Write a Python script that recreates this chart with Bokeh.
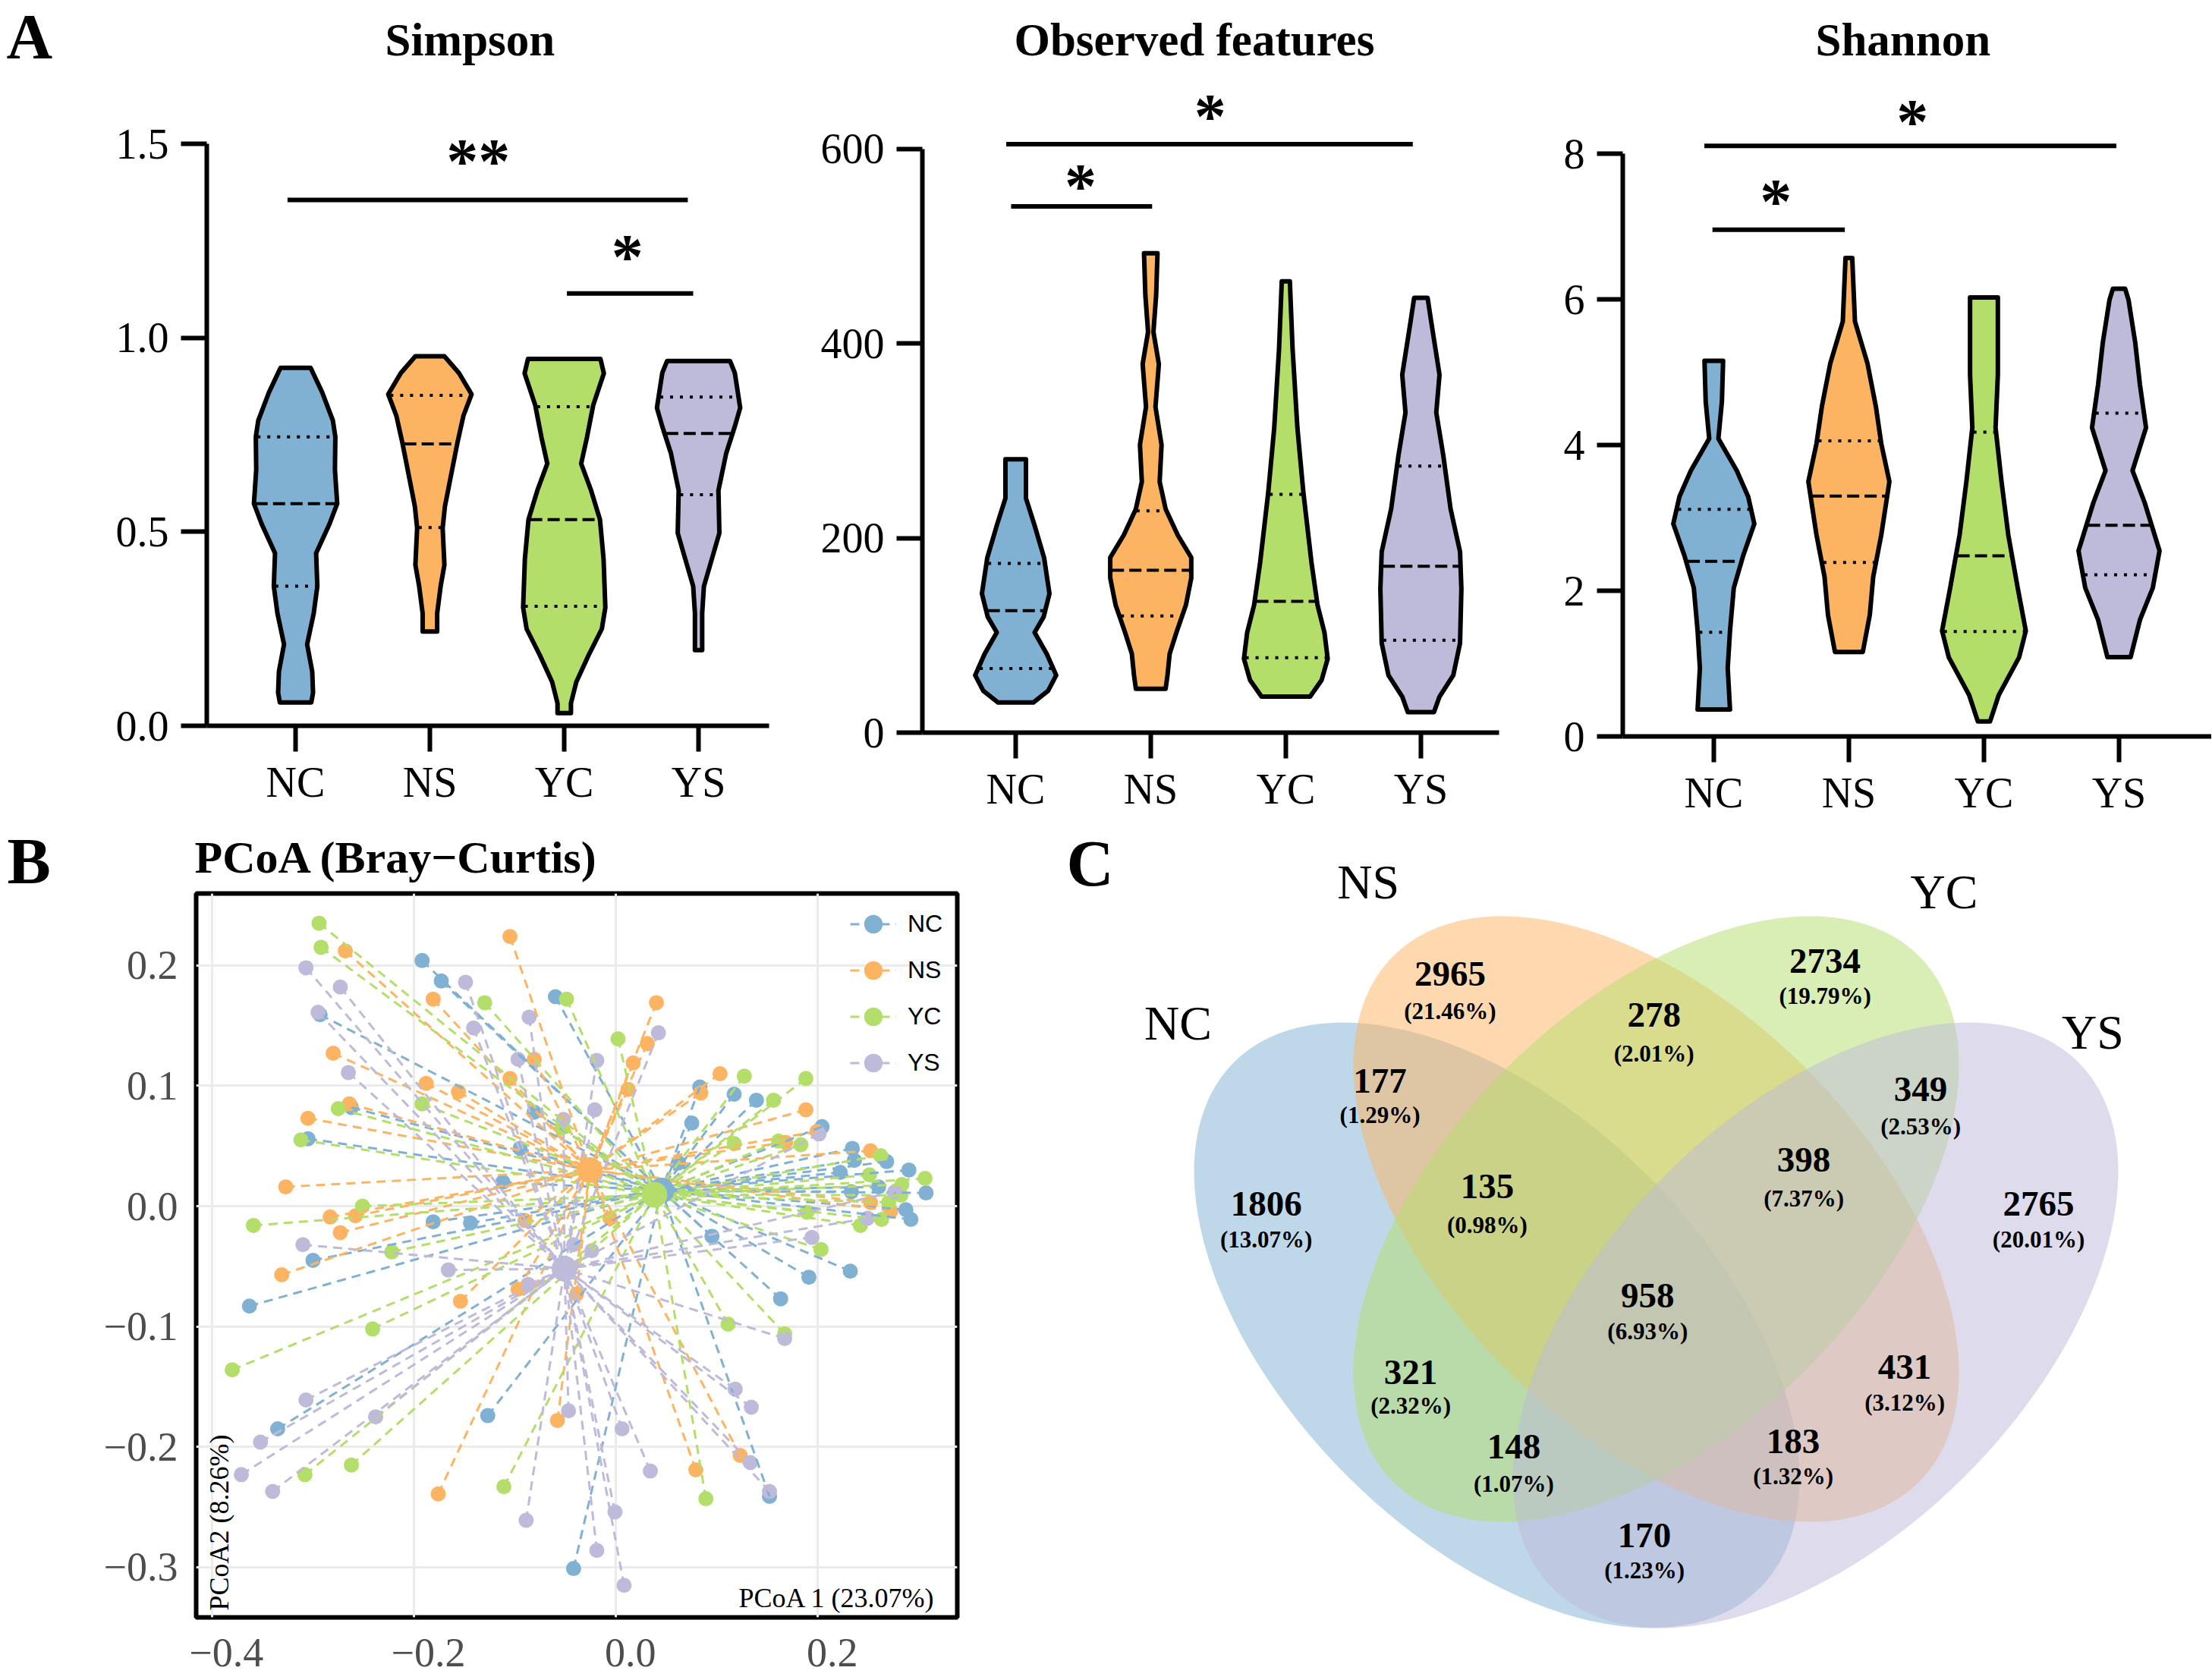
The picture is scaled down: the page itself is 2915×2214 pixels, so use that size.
import numpy as np
from bokeh.plotting import figure
from bokeh.layouts import row, column
from bokeh.models import (FixedTicker, PrintfTickFormatter, CustomJSTickFormatter,
                          Label, Legend, LegendItem, Range1d, ColumnDataSource)
from bokeh.core.properties import value
from bokeh.embed import file_html
from bokeh.resources import INLINE

SERIF = "Liberation Serif"
SANS = "Liberation Sans"

groups = ["NC", "NS", "YC", "YS"]
group_colors = ["#80B1D3", "#FDB462", "#B3DE69", "#BEBADA"]

# ---------------- A: alpha diversity violins: (value, half-width) outlines ----------------
simpson_profiles = {
    "NC": [(0.923, 0.112), (0.86, 0.198), (0.787, 0.278), (0.745, 0.296), (0.66, 0.293), (0.573, 0.31),
           (0.52, 0.252), (0.445, 0.153), (0.36, 0.162), (0.29, 0.135), (0.21, 0.086), (0.14, 0.124),
           (0.085, 0.13), (0.06, 0.117)],
    "NS": [(0.953, 0.108), (0.91, 0.216), (0.855, 0.31), (0.80, 0.25), (0.73, 0.205), (0.635, 0.151),
           (0.566, 0.112), (0.51, 0.095), (0.415, 0.108), (0.36, 0.08), (0.29, 0.054), (0.243, 0.054)],
    "YC": [(0.946, 0.27), (0.909, 0.295), (0.827, 0.216), (0.745, 0.17), (0.676, 0.126), (0.607, 0.2),
           (0.532, 0.266), (0.43, 0.293), (0.305, 0.306), (0.25, 0.28), (0.181, 0.18), (0.113, 0.09),
           (0.058, 0.05), (0.033, 0.05)],
    "YS": [(0.941, 0.234), (0.91, 0.27), (0.82, 0.31), (0.772, 0.27), (0.703, 0.206), (0.607, 0.148),
           (0.497, 0.155), (0.43, 0.099), (0.36, 0.04), (0.29, 0.027), (0.195, 0.027)],
}
simpson_quartiles = {"NC": (0.36, 0.573, 0.745), "NS": (0.511, 0.727, 0.852),
                     "YC": (0.308, 0.532, 0.823), "YS": (0.596, 0.754, 0.848)}
simpson_sig = {"x0": [0.94, 3.02], "x1": [3.92, 3.96], "y": [1.356, 1.115],
               "star_x": [2.36, 3.47], "star_y": [1.479, 1.233], "stars": ["**", "*"]}

observed_profiles = {
    "NC": [(281, 0.076), (241, 0.076), (213, 0.14), (180, 0.21), (143, 0.25), (119, 0.207), (103, 0.14),
           (81, 0.23), (59, 0.30), (43, 0.24), (31, 0.13)],
    "NS": [(493, 0.05), (450, 0.04), (412, 0.02), (379, 0.06), (335, 0.035), (296, 0.08), (258, 0.066),
           (230, 0.11), (203, 0.2), (180, 0.30), (159, 0.30), (131, 0.26), (103, 0.19), (81, 0.14),
           (59, 0.124), (45, 0.11)],
    "YC": [(464, 0.03), (395, 0.05), (313, 0.086), (247, 0.13), (175, 0.19), (131, 0.235), (103, 0.286),
           (76, 0.31), (54, 0.265), (37, 0.18)],
    "YS": [(447, 0.05), (423, 0.076), (368, 0.138), (329, 0.114), (285, 0.166), (230, 0.22), (186, 0.29),
           (148, 0.30), (92, 0.29), (59, 0.24), (37, 0.138), (21, 0.097)],
}
observed_quartiles = {"NC": (66, 125.5, 174), "NS": (120, 167, 228),
                      "YC": (77, 135, 245), "YS": (95, 171, 274)}
observed_sig = {"x0": [0.93, 0.966], "x1": [3.94, 2.01], "y": [605, 541],
                "star_x": [2.44, 1.48], "star_y": [643, 571], "stars": ["*", "*"]}

shannon_profiles = {
    "NC": [(5.16, 0.069), (4.6, 0.06), (4.09, 0.034), (3.65, 0.17), (3.29, 0.255), (2.92, 0.30),
           (2.48, 0.217), (2.04, 0.148), (1.45, 0.12), (0.94, 0.103), (0.37, 0.12)],
    "NS": [(6.57, 0.025), (5.7, 0.045), (5.12, 0.138), (4.53, 0.2), (4.02, 0.24), (3.5, 0.30),
           (2.77, 0.24), (2.19, 0.18), (1.67, 0.155), (1.16, 0.103)],
    "YC": [(6.03, 0.103), (4.97, 0.103), (4.24, 0.086), (3.5, 0.13), (2.77, 0.18), (2.04, 0.25),
           (1.45, 0.31), (1.085, 0.26), (0.57, 0.11), (0.205, 0.045)],
    "YS": [(6.15, 0.045), (6.0, 0.07), (5.41, 0.12), (4.83, 0.155), (4.24, 0.2), (3.65, 0.1),
           (3.21, 0.19), (2.55, 0.30), (2.04, 0.25), (1.6, 0.155), (1.09, 0.086)],
}
shannon_quartiles = {"NC": (1.43, 2.405, 3.12), "NS": (2.39, 3.3, 4.06),
                     "YC": (1.44, 2.48, 4.18), "YS": (2.22, 2.9, 4.44)}
shannon_sig = {"x0": [0.93, 0.99], "x1": [3.98, 1.97], "y": [8.11, 6.96],
               "star_x": [2.47, 1.46], "star_y": [8.57, 7.47], "stars": ["*", "*"]}

# ---------------- B: PCoA (Bray-Curtis) sample coordinates ----------------
pc1_NC = [-0.192, -0.173, -0.060, -0.293, -0.081, -0.262, -0.305, -0.095, -0.112, -0.181, -0.144, -0.300,
          0.083, 0.117, 0.139, 0.075, 0.204, 0.234, 0.268, 0.290, 0.307, 0.222, 0.233, 0.260, 0.287, 0.292,
          0.236, 0.062, 0.095, -0.363, -0.335, -0.127, -0.042, 0.232, 0.191, 0.163, 0.152]
pc2_NC = [0.204, 0.187, 0.174, 0.159, 0.078, 0.082, 0.056, 0.048, 0.020, -0.013, -0.014, -0.045,
          0.099, 0.093, 0.088, 0.069, 0.066, 0.048, 0.037, 0.030, 0.011, 0.028, 0.012, 0.016, -0.003, -0.011,
          0.038, 0.036, -0.025, -0.083, -0.185, -0.174, -0.301, -0.054, -0.059, -0.077, -0.241]
pc1_NS = [-0.105, -0.268, -0.181, -0.280, -0.081, -0.105, -0.188, -0.156, -0.264, -0.305, -0.327, -0.283,
          -0.258, -0.273, -0.090, 0.040, 0.031, 0.017, 0.012, 0.103, 0.084, 0.188, 0.199, 0.252, 0.168,
          0.272, 0.252, -0.006, -0.331, -0.154, -0.097, -0.058, -0.176, -0.039, 0.123, 0.079]
pc2_NS = [0.224, 0.212, 0.172, 0.127, 0.122, 0.106, 0.102, 0.095, 0.085, 0.073, 0.016, -0.009,
          -0.008, -0.022, -0.012, 0.169, 0.135, 0.119, 0.097, 0.110, 0.094, 0.080, 0.062, 0.046, 0.053,
          -0.004, 0.003, -0.010, -0.057, -0.079, -0.069, -0.178, -0.239, -0.073, -0.207, -0.219]
pc1_YC = [-0.294, -0.292, -0.130, -0.049, -0.275, -0.192, -0.312, -0.251, -0.359, -0.222, -0.054,
          0.002, 0.127, 0.188, 0.156, 0.117, 0.161, 0.183, 0.262, 0.251, 0.306, 0.283, 0.282, 0.270, 0.242,
          0.263, 0.203, 0.189, -0.241, -0.380, -0.262, -0.308, -0.111, 0.111, 0.167, 0.089]
pc2_YC = [0.235, 0.215, 0.169, 0.172, 0.081, 0.085, 0.055, 0.000, -0.016, -0.038, 0.065,
          0.139, 0.108, 0.106, 0.088, 0.052, 0.054, 0.051, 0.042, 0.026, 0.023, 0.018, 0.009, 0.003, -0.016,
          -0.011, -0.036, -0.005, -0.102, -0.136, -0.215, -0.223, -0.233, -0.098, -0.106, -0.243]
pc1_YS = [-0.307, -0.273, -0.149, -0.295, -0.086, -0.141, -0.097, -0.265, -0.052, -0.310, -0.042,
          0.042, -0.019, -0.021, 0.201, 0.249, 0.276, 0.194, -0.024, -0.166, -0.307, -0.238, -0.352, -0.371,
          -0.340, -0.089, -0.047, -0.087, 0.167, 0.118, 0.134, 0.006, 0.034, 0.133, -0.001, -0.019, 0.008, 0.152]
pc2_YS = [0.198, 0.182, 0.186, 0.161, 0.157, 0.148, 0.122, 0.111, 0.072, -0.032, -0.032,
          0.144, 0.121, 0.080, 0.060, -0.010, 0.012, -0.026, -0.037, -0.053, -0.161, -0.175, -0.196, -0.223,
          -0.237, -0.261, -0.170, -0.065, -0.110, -0.152, -0.167, -0.185, -0.220, -0.213, -0.254, -0.286, -0.315, -0.237]
centroid_pc1 = [0.045, -0.026, 0.038, -0.051]
centroid_pc2 = [0.013, 0.030, 0.0095, -0.052]
pcoa_xticks = [-0.4, -0.2, 0.0, 0.2]
pcoa_yticks = [-0.3, -0.2, -0.1, 0.0, 0.1, 0.2]

# ---------------- C: Venn counts ----------------
venn_regions = ["NS", "YC", "NS&YC", "NC&NS", "YC&YS", "NC&NS&YC", "NS&YC&YS", "NC", "YS",
                "NC&NS&YC&YS", "NC&YC", "NS&YS", "NC&YC&YS", "NC&NS&YS", "NC&YS"]
venn_counts = [2965, 2734, 278, 177, 349, 135, 398, 1806, 2765, 958, 321, 431, 148, 183, 170]
venn_pcts = ["21.46%", "19.79%", "2.01%", "1.29%", "2.53%", "0.98%", "7.37%", "13.07%", "20.01%",
             "6.93%", "2.32%", "3.12%", "1.07%", "1.32%", "1.23%"]

# layout (positions) for the Venn diagram, in unit coordinates
venn_num_x = [0.306, 0.659, 0.498, 0.240, 0.749, 0.341, 0.639, 0.133, 0.860, 0.492, 0.269, 0.734, 0.366, 0.629, 0.489]
venn_num_y = [0.801, 0.813, 0.762, 0.700, 0.692, 0.601, 0.626, 0.584, 0.584, 0.498, 0.426, 0.431, 0.356, 0.361, 0.272]
venn_pct_y = [0.766, 0.780, 0.726, 0.668, 0.657, 0.564, 0.589, 0.551, 0.551, 0.464, 0.394, 0.397, 0.321, 0.328, 0.239]
ell_x = [0.35, 0.5, 0.5, 0.65]
ell_y = [0.47, 0.57, 0.57, 0.47]
ell_angle = [-np.pi / 4, -np.pi / 4, np.pi / 4, np.pi / 4]
set_label_x = [0.050, 0.229, 0.771, 0.911]
set_label_y = [0.754, 0.887, 0.878, 0.746]

PAGE_W = 2914
PAGE_H = 2212
TOP_H = 1078
BOT_H = PAGE_H - TOP_H


def letter_fig(letter, width, height, x, y, size):
    p = figure(width=width, height=height, x_range=Range1d(0, width), y_range=Range1d(height, 0),
               min_border=0, title=None, x_axis_location=None, y_axis_location=None,
               output_backend="svg", toolbar_location=None)
    p.outline_line_color = None
    p.grid.visible = False
    p.text(x=[x], y=[y], text=[letter], text_font=value(SERIF), text_font_style="bold",
           text_font_size=size, text_align="left", text_baseline="middle", text_color="black")
    return p


def make_violin(title, fig_w, mbl, mbr, frame_bottom, x_start, x_end, y_end, yticks, fmt,
                profiles, quartiles, sig, title_offset):
    p = figure(width=fig_w, height=TOP_H, x_range=Range1d(x_start, x_end), y_range=Range1d(0, y_end),
               min_border_left=mbl, min_border_right=mbr, min_border_top=100,
               min_border_bottom=TOP_H - frame_bottom, title=title,
               output_backend="svg", toolbar_location=None)
    p.title.align = "left"
    p.title.offset = title_offset
    p.title.standoff = 30
    p.title.text_font = SERIF
    p.title.text_font_style = "bold"
    p.title.text_font_size = "61px"
    p.title.text_color = "black"
    p.outline_line_color = None
    p.grid.visible = False
    for i, g in enumerate(groups):
        prof = profiles[g]
        vs = [v for v, w in prof]
        ws = [w for v, w in prof]
        c = i + 1
        xs = [c + w for w in ws] + [c - w for w in ws[::-1]]
        ys = vs + vs[::-1]
        p.patch(xs, ys, fill_color=group_colors[i], line_color="black", line_width=6, line_join="round")
        va = vs[::-1]
        wa = ws[::-1]
        for q, dash in zip(quartiles[g], ("4 9", "16 7", "4 9")):
            hw = float(np.interp(q, va, wa)) - 0.012
            p.line([c - hw, c + hw], [q, q], line_color="black", line_width=4, line_dash=dash)
    p.segment(sig["x0"], sig["y"], sig["x1"], sig["y"], line_color="black", line_width=6)
    p.text(x=sig["star_x"], y=sig["star_y"], text=sig["stars"], text_font=value(SERIF), text_font_style="bold",
           text_font_size="84px", text_align="center", text_baseline="middle", y_offset=12, text_color="black")
    p.xaxis.ticker = FixedTicker(ticks=[1, 2, 3, 4])
    p.xaxis.major_label_overrides = {1: "NC", 2: "NS", 3: "YC", 4: "YS"}
    p.yaxis.ticker = FixedTicker(ticks=yticks)
    p.yaxis.bounds = (0, yticks[-1])
    if fmt is not None:
        p.yaxis.formatter = PrintfTickFormatter(format=fmt)
    p.axis.axis_line_width = 6
    p.axis.axis_line_color = "black"
    p.axis.major_tick_line_width = 6
    p.axis.major_tick_out = 34
    p.axis.major_tick_in = 0
    p.axis.minor_tick_line_color = None
    p.axis.major_label_text_font = SERIF
    p.axis.major_label_text_font_size = "56px"
    p.axis.major_label_text_color = "black"
    p.xaxis.major_label_standoff = 9
    p.yaxis.major_label_standoff = 16
    return p


pAL = letter_fig("A", 100, TOP_H, 8, 48, "84px")
pA1 = make_violin("Simpson", 940, 172, 27, 956, 0.339, 4.525, 1.6751, [0, 0.5, 1.0, 1.5], "%.1f",
                  simpson_profiles, simpson_quartiles, simpson_sig, 235)
pA2 = make_violin("Observed features", 1010, 175, 75, 965, 0.309, 4.579, 674.9, [0, 200, 400, 600], None,
                  observed_profiles, observed_quartiles, observed_sig, 121)
SH_W = PAGE_W - 2050
pA3 = make_violin("Shannon", SH_W, 88, 0, 972, 0.326, 0.326 + (PAGE_W - 2138) / 178, 9.067, [0, 2, 4, 6, 8],
                  None, shannon_profiles, shannon_quartiles, shannon_sig, 254)

# ---------------- B: PCoA ----------------
pBL = letter_fig("B", 100, BOT_H, 9, 1134.5 - TOP_H, "86px")
pB = figure(width=1280, height=BOT_H, x_range=Range1d(-0.4157, 0.3379), y_range=Range1d(-0.3416, 0.2597),
            min_border_left=158, min_border_right=119, min_border_top=1177 - TOP_H,
            min_border_bottom=PAGE_H - 2131,
            title="PCoA (Bray\u2212Curtis)", output_backend="svg", toolbar_location=None)
pB.title.align = "left"
pB.title.offset = -2
pB.title.standoff = 30
pB.title.text_font = SERIF
pB.title.text_font_style = "bold"
pB.title.text_font_size = "60px"
pB.title.text_color = "black"
pB.outline_line_color = "black"
pB.outline_line_width = 6
pB.background_fill_color = "white"
pB.xaxis.ticker = FixedTicker(ticks=pcoa_xticks)
pB.yaxis.ticker = FixedTicker(ticks=pcoa_yticks)
fmt_x = "return '\u2002\u2009' + (tick < -1e-9 ? '\u2212' : '') + Math.abs(tick).toFixed(1);"
fmt_y = "return (tick < -1e-9 ? '\u2212' : '') + Math.abs(tick).toFixed(1);"
pB.xaxis.formatter = CustomJSTickFormatter(code=fmt_x)
pB.yaxis.formatter = CustomJSTickFormatter(code=fmt_y)
pB.axis.axis_line_color = None
pB.axis.major_tick_line_color = None
pB.axis.minor_tick_line_color = None
pB.axis.major_tick_out = 0
pB.axis.major_tick_in = 0
pB.axis.major_label_text_font = SERIF
pB.axis.major_label_text_font_size = "54px"
pB.axis.major_label_text_color = "#4D4D4D"
pB.xaxis.major_label_standoff = 16
pB.yaxis.major_label_standoff = 24
pB.grid.grid_line_color = "#EBEBEB"
pB.grid.grid_line_width = 3

pcoa_points = {"NC": (pc1_NC, pc2_NC), "NS": (pc1_NS, pc2_NS), "YC": (pc1_YC, pc2_YC), "YS": (pc1_YS, pc2_YS)}
pt_renderers = {}
for i, g in enumerate(groups):
    xs, ys = pcoa_points[g]
    pt_renderers[g] = pB.scatter(xs, ys, size=20, fill_color=group_colors[i], line_color=None)
seg_renderers = {}
for i, g in enumerate(groups):
    xs, ys = pcoa_points[g]
    src = ColumnDataSource(dict(x0=xs, y0=ys, x1=[centroid_pc1[i]] * len(xs), y1=[centroid_pc2[i]] * len(xs)))
    seg_renderers[g] = pB.segment("x0", "y0", "x1", "y1", source=src, line_color=group_colors[i],
                                  line_width=3, line_dash="12 8")
pB.scatter(centroid_pc1, centroid_pc2, size=34, fill_color=group_colors, line_color=None)

legend = Legend(items=[LegendItem(label=g, renderers=[seg_renderers[g], pt_renderers[g]]) for g in groups],
                location="top_right", glyph_width=61, glyph_height=61, label_width=55, label_standoff=15,
                padding=8, margin=10, spacing=0, border_line_color=None, background_fill_alpha=0,
                label_text_font=SANS, label_text_font_size="32px", label_text_color="black")
pB.add_layout(legend)

pB.add_layout(Label(x=974, y=26, x_units="screen", y_units="screen", text="PCoA 1 (23.07%)",
                    text_font=SERIF, text_font_size="36px", text_align="right", text_baseline="middle",
                    text_color="black"))
pB.add_layout(Label(x=30, y=9, x_units="screen", y_units="screen", text="PCoA2 (8.26%)", angle=np.pi / 2,
                    text_font=SERIF, text_font_size="36px", text_align="left", text_baseline="middle",
                    text_color="black"))

# ---------------- C: Venn ----------------
VX0, VS, VY0 = 2182, 1400, 2404   # unit square -> page pixels
pC = figure(width=PAGE_W - 1380, height=BOT_H,
            x_range=Range1d(0.5 + (1380 - VX0) / VS, 0.5 + (PAGE_W - VX0) / VS),
            y_range=Range1d((VY0 - PAGE_H) / VS, (VY0 - TOP_H) / VS),
            min_border=0, title=None, x_axis_location=None, y_axis_location=None,
            output_backend="svg", toolbar_location=None)
pC.outline_line_color = None
pC.grid.visible = False
pC.ellipse(x=ell_x, y=ell_y, width=0.70, height=0.40, angle=ell_angle, fill_color=group_colors,
           fill_alpha=0.5, line_color=None)
pC.text(x=venn_num_x, y=venn_num_y, text=[str(c) for c in venn_counts], text_font=value(SERIF),
        text_font_style="bold", text_font_size="47px", text_align="center", text_baseline="middle",
        text_color="black")
pC.text(x=venn_num_x, y=venn_pct_y, text=["(" + s + ")" for s in venn_pcts], text_font=value(SERIF),
        text_font_style="bold", text_font_size="31px", text_align="center", text_baseline="middle",
        text_color="black")
pC.text(x=set_label_x, y=set_label_y, text=groups, text_font=value(SERIF), text_font_size="64px",
        text_align="center", text_baseline="middle", text_color="black")
pC.text(x=[0.5 + (1405 - VX0) / VS], y=[(VY0 - 1137) / VS], text=["C"], text_font=value(SERIF),
        text_font_style="bold", text_font_size="86px", text_align="left", text_baseline="middle",
        text_color="black")

layout = column(row(column(pAL), column(pA1), column(pA2), column(pA3)),
                row(column(pBL), column(pB), column(pC)))
open("out.html", "w").write(file_html(layout, INLINE, title="Alpha and beta diversity"))
